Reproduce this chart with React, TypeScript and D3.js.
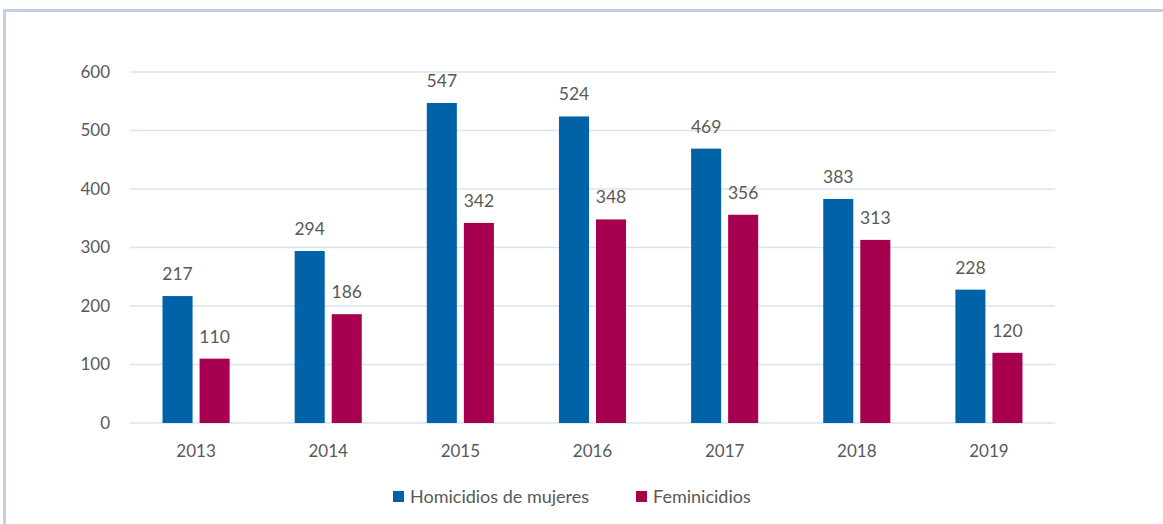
import React from "react";
import * as d3 from "d3";

const years = ["2013", "2014", "2015", "2016", "2017", "2018", "2019"];
const homicidios = [217, 294, 547, 524, 469, 383, 228];
const feminicidios = [110, 186, 342, 348, 356, 313, 120];
const yTicks = [0, 100, 200, 300, 400, 500, 600];
const seriesNames = ["Homicidios de mujeres", "Feminicidios"];
const colors = ["#0062a7", "#a6004f"];

export default function App() {
  const W = 1163, H = 524;
  const left = 130, right = 1055, top = 72, bottom = 423;
  const x = d3.scaleBand<string>().domain(years).range([left, right]).paddingInner(0).paddingOuter(0);
  const y = d3.scaleLinear().domain([0, 600]).range([bottom, top]);
  const sub = d3.scaleBand<number>().domain([0, 1]).range([0, x.bandwidth()]).paddingInner(0.189).paddingOuter(0.878);
  const font = "Lato, 'Open Sans', sans-serif";
  const series = [homicidios, feminicidios];
  return (
    <svg width={W} height={H} style={{ position: "absolute", left: 0, top: 0, background: "#fff" }}>
      <line x1={4.5} y1={10} x2={4.5} y2={H} stroke="#c3cde6" strokeWidth={3} />
      <line x1={3} y1={10.5} x2={W} y2={10.5} stroke="#c3cde6" strokeWidth={3} />
      {yTicks.map((t) => (
        <g key={t}>
          <line x1={left} x2={right} y1={y(t)} y2={y(t)} stroke="#d6e4f1" strokeWidth={1.3} />
          <text x={110} y={y(t)} dy="0.35em" textAnchor="end" fontFamily={font} fontSize={17} fill="#595959">{t}</text>
        </g>
      ))}
      {years.map((yr, i) => (
        <g key={yr}>
          {series.map((s, k) => {
            const bx = (x(yr) as number) + (sub(k) as number);
            return (
              <g key={k}>
                <rect x={bx} y={y(s[i])} width={sub.bandwidth()} height={bottom - y(s[i])} fill={colors[k]} />
                <text x={bx + sub.bandwidth() / 2} y={y(s[i]) - 16} textAnchor="middle" fontFamily={font} fontSize={17.5} fill="#595959">{s[i]}</text>
              </g>
            );
          })}
          <text x={(x(yr) as number) + x.bandwidth() / 2} y={457} textAnchor="middle" fontFamily={font} fontSize={17} fill="#595959">{yr}</text>
        </g>
      ))}
      {seriesNames.map((n, k) => {
        const lx = k === 0 ? 393 : 636;
        return (
          <g key={n}>
            <rect x={lx} y={491} width={11} height={11} fill={colors[k]} />
            <text x={lx + 17} y={503} fontFamily={font} fontSize={18} fill="#595959">{n}</text>
          </g>
        );
      })}
    </svg>
  );
}
